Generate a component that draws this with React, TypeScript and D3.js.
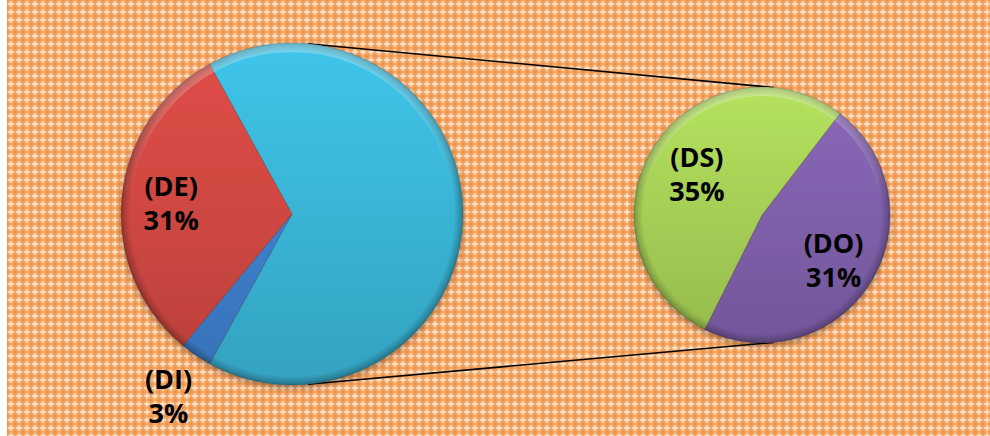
import React from "react";
import * as d3 from "d3";

// ---- data ----
const mainCategories = ["(DE)", "(DI)"];
const mainValues = [31, 3];
const subCategories = ["(DS)", "(DO)"];
const subValues = [35, 31];

const mainColors = ["#cf4742", "#3d7fcc"];
const otherColor = "#3ab4d6";
const subColors = ["#a6cf56", "#7f60aa"];

const W = 990;
const H = 436;

type Slice = { name: string; value: number; color: string; label: boolean; lr: number };

function PieGroup(props: {
  id: string;
  cx: number;
  cy: number;
  r: number;
  data: Slice[];
  start: number;
  total: number;
}) {
  const { id, cx, cy, r, data, start, total } = props;
  const pie = d3
    .pie<Slice>()
    .sort(null)
    .value((d) => d.value)
    .startAngle(start)
    .endAngle(start + 2 * Math.PI);
  const arcs = pie(data);
  const arc = d3.arc<d3.PieArcDatum<Slice>>().innerRadius(0).outerRadius(r);
  const rim = d3.arc().innerRadius(r - 9).outerRadius(r).startAngle(0).endAngle(2 * Math.PI);
  return (
    <g transform={`translate(${cx},${cy})`}>
      <defs>
        {arcs.map((a, i) => {
          const c = d3.color(a.data.color)!;
          return (
            <linearGradient key={i} id={`${id}-g${i}`} x1="0" y1={-r} x2="0" y2={r} gradientUnits="userSpaceOnUse">
              <stop offset="0" stopColor={c.brighter(0.25).formatHex()} />
              <stop offset="1" stopColor={c.darker(0.3).formatHex()} />
            </linearGradient>
          );
        })}
        <radialGradient id={`${id}-rim`} cx="0" cy="0" r={r} gradientUnits="userSpaceOnUse">
          <stop offset={(r - 9) / r} stopColor="#000" stopOpacity="0" />
          <stop offset="0.985" stopColor="#000" stopOpacity="0.2" />
          <stop offset="1" stopColor="#000" stopOpacity="0.32" />
        </radialGradient>
        <linearGradient id={`${id}-hl`} x1="0" y1={-r} x2="0" y2={r} gradientUnits="userSpaceOnUse">
          <stop offset="0" stopColor="#fff" stopOpacity="0.3" />
          <stop offset="0.45" stopColor="#fff" stopOpacity="0" />
        </linearGradient>
      </defs>
      <g filter="url(#shadow)">
        {arcs.map((a, i) => (
          <path key={i} d={arc(a) || ""} fill={`url(#${id}-g${i})`} stroke="rgba(0,0,0,0.15)" strokeWidth={1} />
        ))}
      </g>
      <path d={(rim as any)() || ""} fill={`url(#${id}-rim)`} />
      <path d={(rim as any)() || ""} fill={`url(#${id}-hl)`} />
      {arcs.map((a, i) => {
        if (!a.data.label) return null;
        const lr = r * a.data.lr;
        const [lx, ly] = d3.arc<any>().innerRadius(lr).outerRadius(lr).centroid(a);
        const pct = Math.round((a.data.value / total) * 100) + "%";
        return (
          <text
            key={"t" + i}
            x={lx}
            textAnchor="middle"
            fontFamily="'Open Sans', sans-serif"
            fontWeight={700}
            fontSize={27}
            fill="#000"
          >
            <tspan x={lx} y={ly - 7}>{a.data.name}</tspan>
            <tspan x={lx} y={ly + 27}>{pct}</tspan>
          </text>
        );
      })}
    </g>
  );
}

export default function App() {
  const cx1 = 292, cy1 = 214, r1 = 171;
  const cx2 = 762, cy2 = 215, r2 = 128;

  const otherTotal = d3.sum(subValues);
  const total = otherTotal + d3.sum(mainValues);
  const otherSpan = (otherTotal / total) * 2 * Math.PI;
  const start1 = Math.PI / 2 - otherSpan / 2;

  const mainData: Slice[] = [
    { name: "Other", value: otherTotal, color: otherColor, label: false, lr: 0 },
    { name: mainCategories[1], value: mainValues[1], color: mainColors[1], label: true, lr: 1.285 },
    { name: mainCategories[0], value: mainValues[0], color: mainColors[0], label: true, lr: 0.71 },
  ];
  const subData: Slice[] = [
    { name: subCategories[1], value: subValues[1], color: subColors[1], label: true, lr: 0.66 },
    { name: subCategories[0], value: subValues[0], color: subColors[0], label: true, lr: 0.6 },
  ];
  const start2 = (37.5 * Math.PI) / 180;

  // external tangent lines between the two circles
  const d = cx2 - cx1;
  const th = Math.asin((r1 - r2) / d);
  const tangent = (sgn: number) => ({
    x1: cx1 + r1 * Math.sin(th),
    y1: cy1 + sgn * r1 * Math.cos(th),
    x2: cx2 + r2 * Math.sin(th),
    y2: cy2 + sgn * r2 * Math.cos(th),
  });
  const tTop = tangent(-1);
  const tBot = tangent(1);

  return (
    <svg width={W} height={H} style={{ position: "absolute", left: 0, top: 0 }}>
      <defs>
        <pattern id="bg" width="8" height="8" patternUnits="userSpaceOnUse" x="7" y="0">
          <rect width="8" height="8" fill="#f49f58" />
          <polygon points="4,0 8,4 4,8 0,4" fill="#f7b37c" />
          <rect x="0" y="0" width="1" height="1" fill="#f08e42" />
          <rect x="7" y="0" width="1" height="1" fill="#f08e42" />
          <rect x="0" y="7" width="1" height="1" fill="#f08e42" />
          <rect x="7" y="7" width="1" height="1" fill="#f08e42" />
          <rect x="3" y="1" width="2" height="6" fill="#fbd2ae" />
          <rect x="1" y="3" width="6" height="2" fill="#fbd2ae" />
          <rect x="3" y="3" width="2" height="2" fill="#fee8d6" />
        </pattern>
        <filter id="shadow" x="-20%" y="-20%" width="140%" height="140%">
          <feDropShadow dx="0" dy="3" stdDeviation="3" floodColor="#000" floodOpacity="0.35" />
        </filter>
      </defs>
      <rect x={0} y={0} width={W} height={H} fill="#fff" />
      <rect x={7} y={0} width={W - 7} height={H} fill="url(#bg)" />
      <line {...tTop} stroke="#000" strokeWidth={1.5} />
      <line {...tBot} stroke="#000" strokeWidth={1.5} />
      <PieGroup id="p1" cx={cx1} cy={cy1} r={r1} data={mainData} start={start1} total={total} />
      <PieGroup id="p2" cx={cx2} cy={cy2} r={r2} data={subData} start={start2} total={total} />
    </svg>
  );
}
